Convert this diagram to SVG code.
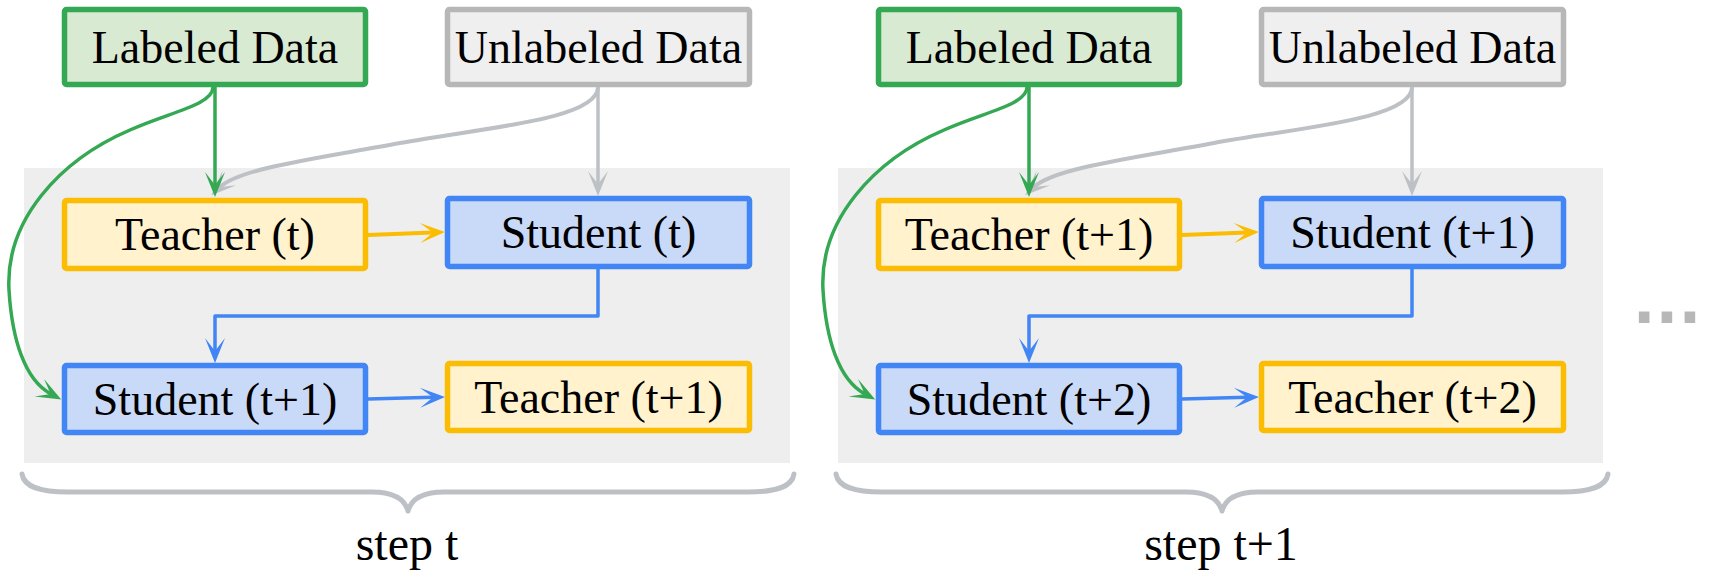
<svg xmlns="http://www.w3.org/2000/svg" width="1712" height="581" viewBox="0 0 1712 581">
<defs>
<style>
.panel{fill:#eeeeee}
.lbl{font-family:"Liberation Serif","DejaVu Serif",serif;font-size:46px;fill:#000;text-anchor:middle}
.step{font-family:"Liberation Serif","DejaVu Serif",serif;font-size:48px;fill:#000;text-anchor:middle}
.green{fill:#d9ead3;stroke:#34a853;stroke-width:5.5}
.gray{fill:#efefef;stroke:#b7b7b7;stroke-width:5.5}
.yellow{fill:#fff2cc;stroke:#fbbc04;stroke-width:5.5}
.blue{fill:#c9daf8;stroke:#4285f4;stroke-width:5.5}
.c{fill:none;stroke-width:3.5;stroke-linejoin:round}
.cg{stroke:#34a853;marker-end:url(#ag)}
.cgr{stroke:#bdc1c6;marker-end:url(#agr)}
.cy{stroke:#fbbc04;stroke-width:4;marker-end:url(#ay)}
.cb{stroke:#4285f4;marker-end:url(#ab)}
.brace{fill:none;stroke:#bdc1c6;stroke-width:5;stroke-linecap:round;stroke-linejoin:round}
</style>
<marker id="ag" markerUnits="userSpaceOnUse" markerWidth="30" markerHeight="30" refX="0" refY="0" orient="auto" overflow="visible"><path d="M12,0 L-13,-10 L0,0 L-13,10 Z" fill="#34a853"/></marker>
<marker id="agr" markerUnits="userSpaceOnUse" markerWidth="30" markerHeight="30" refX="0" refY="0" orient="auto" overflow="visible"><path d="M12,0 L-13,-10 L0,0 L-13,10 Z" fill="#bdc1c6"/></marker>
<marker id="ay" markerUnits="userSpaceOnUse" markerWidth="30" markerHeight="30" refX="0" refY="0" orient="auto" overflow="visible"><path d="M12,0 L-13,-10 L0,0 L-13,10 Z" fill="#fbbc04"/></marker>
<marker id="ab" markerUnits="userSpaceOnUse" markerWidth="30" markerHeight="30" refX="0" refY="0" orient="auto" overflow="visible"><path d="M12,0 L-13,-10 L0,0 L-13,10 Z" fill="#4285f4"/></marker>
</defs>
<rect width="1712" height="581" fill="#ffffff"/>

<g id="panel-step-t"><rect class="panel" x="24" y="168" width="766" height="295"/></g>
<g id="panel-step-t1"><rect class="panel" x="838" y="168" width="765" height="295"/></g>

<g id="labeled-data-1"><rect class="green" x="64.5" y="9.5" width="301" height="75" rx="2"/><text class="lbl" x="215" y="63">Labeled Data</text></g>
<g id="unlabeled-data-1"><rect class="gray" x="447.5" y="9.5" width="302" height="75" rx="2"/><text class="lbl" x="598.5" y="63">Unlabeled Data</text></g>
<g id="teacher-t"><rect class="yellow" x="64.5" y="200.5" width="301" height="68" rx="2"/><text class="lbl" x="215" y="250">Teacher (t)</text></g>
<g id="student-t"><rect class="blue" x="447.5" y="198.5" width="302" height="68" rx="2"/><text class="lbl" x="598.5" y="248">Student (t)</text></g>
<g id="student-t1-a"><rect class="blue" x="64.5" y="365.5" width="301" height="67" rx="2"/><text class="lbl" x="215" y="415">Student (t+1)</text></g>
<g id="teacher-t1-a"><rect class="yellow" x="447.5" y="363.5" width="302" height="67" rx="2"/><text class="lbl" x="598.5" y="413">Teacher (t+1)</text></g>

<g transform="translate(814,0)">
<g id="labeled-data-2"><rect class="green" x="64.5" y="9.5" width="301" height="75" rx="2"/><text class="lbl" x="215" y="63">Labeled Data</text></g>
<g id="unlabeled-data-2"><rect class="gray" x="447.5" y="9.5" width="302" height="75" rx="2"/><text class="lbl" x="598.5" y="63">Unlabeled Data</text></g>
<g id="teacher-t1-b"><rect class="yellow" x="64.5" y="200.5" width="301" height="68" rx="2"/><text class="lbl" x="215" y="250">Teacher (t+1)</text></g>
<g id="student-t1-b"><rect class="blue" x="447.5" y="198.5" width="302" height="68" rx="2"/><text class="lbl" x="598.5" y="248">Student (t+1)</text></g>
<g id="student-t2"><rect class="blue" x="64.5" y="365.5" width="301" height="67" rx="2"/><text class="lbl" x="215" y="415">Student (t+2)</text></g>
<g id="teacher-t2"><rect class="yellow" x="447.5" y="363.5" width="302" height="67" rx="2"/><text class="lbl" x="598.5" y="413">Teacher (t+2)</text></g>
</g>

<g id="connectors">
<g id="connectors-step-t">
<path class="c cgr" style="stroke-width:4" d="M598,87 C598,120 480,128 400,143 S 240,168 220,187"/>
<path class="c cgr" d="M598,87 V184"/>
<path class="c cg" d="M213,87 C213,105 170,112 130,130 C60,160 5,220 9,290 C12,340 25,380 50.7,393.9"/>
<path class="c cg" d="M215,87 V185"/>
<path class="c cy" d="M368,235 L433,232.5"/>
<path class="c cb" d="M598,269 V316 H215 V351"/>
<path class="c cb" d="M368,399 L433,397.3"/>
</g>
<g id="connectors-step-t1" transform="translate(814,0)">
<path class="c cgr" style="stroke-width:4" d="M598,87 C598,120 480,128 400,143 S 240,168 220,187"/>
<path class="c cgr" d="M598,87 V184"/>
<path class="c cg" d="M213,87 C213,105 170,112 130,130 C60,160 5,220 9,290 C12,340 25,380 50.7,393.9"/>
<path class="c cg" d="M215,87 V185"/>
<path class="c cy" d="M368,235 L433,232.5"/>
<path class="c cb" d="M598,269 V316 H215 V351"/>
<path class="c cb" d="M368,399 L433,397.3"/>
</g>
</g>

<g id="brace-step-t">
<path class="brace" d="M22,474 C24,487 40,492 68,492 L372,492 C396,492 405,500 408,511 C411,500 420,492 444,492 L748,492 C776,492 792,487 794,474"/>
<text class="step" x="407" y="560">step t</text>
</g>
<g id="brace-step-t1" transform="translate(814,0)">
<path class="brace" d="M22,474 C24,487 40,492 68,492 L372,492 C396,492 405,500 408,511 C411,500 420,492 444,492 L748,492 C776,492 792,487 794,474"/>
<text class="step" x="407" y="560">step t+1</text>
</g>

<g id="ellipsis">
<text x="1667" y="323" font-family="'DejaVu Sans',sans-serif" font-weight="bold" font-size="60" fill="#b7b7b7" text-anchor="middle">...</text>
</g>
</svg>
